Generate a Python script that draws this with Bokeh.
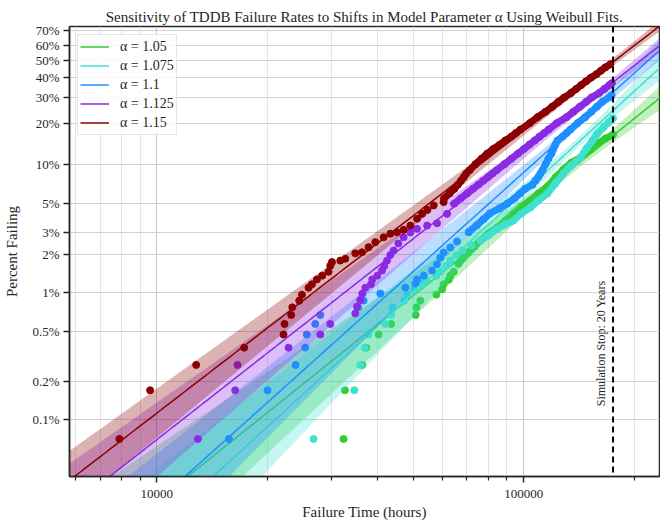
import numpy as np
from bokeh.plotting import figure
from bokeh.models import (Range1d, FixedTicker, CustomJSTickFormatter, NumeralTickFormatter,
                          Span, Legend, LegendItem)
from bokeh.core.properties import value
from bokeh.embed import file_html
from bokeh.resources import INLINE

# ---------------- data ----------------
alpha_labels = ["1.05", "1.075", "1.1", "1.125", "1.15"]
colors = ["#32cd32", "#40e0d0", "#1e90ff", "#8a2be2", "#8b0000"]

# Weibull fit parameters (scale eta in hours, shape beta)
eta = [367800, 282700, 250800, 243900, 208000]
beta = [2.33, 2.66, 2.61, 2.278, 2.238]
# confidence band parameters (half-width in Weibull units: min, growth per ln-hour, centre hours)
band_min = [0.09, 0.09, 0.08, 0.07, 0.06]
band_growth = [0.38, 0.41, 0.33, 0.25, 0.165]
band_center = [140000, 140000, 140000, 147000, 147000]

green_hours = [32280, 32570, 36307, 37230, 40230, 43490, 50760, 50980, 52270, 57800, 59900,
               60500, 62430, 63100, 64420]
green_pct = [0.07, 0.17, 0.27, 0.37, 0.47, 0.57, 0.67, 0.77, 0.87, 0.97, 1.07, 1.17, 1.27, 1.37, 1.47]
green_dense_hours = [66360, 68480, 70660, 73370, 76190, 80120, 84780, 89150, 93750, 98570, 104300,
                     109670, 116040, 122020, 128320, 134930, 142770, 150140, 158860, 167030, 175080]
green_dense_pct = [1.7, 1.9, 2.08, 2.32, 2.58, 2.93, 3.27, 3.7, 4.2, 4.75, 5.29, 5.99, 6.77, 7.93,
                   9.13, 10.3, 11.23, 12.64, 14.26, 15.5, 16.5]

cyan_hours = [26740, 34527, 35854, 36836, 37700, 41950, 43573, 43848, 47275, 48175, 50353, 52950,
              54300, 57800, 59270, 61540, 63100, 65530, 68050, 72010]
cyan_pct = [0.07, 0.17, 0.27, 0.37, 0.47, 0.57, 0.67, 0.77, 0.87, 0.97, 1.07, 1.17, 1.27, 1.37,
            1.47, 1.64, 1.8, 1.99, 2.16, 2.36]
cyan_dense_hours = [76190, 80120, 84250, 89150, 93750, 98570, 104300, 109670, 116040, 122020, 128320,
                    134930, 142770, 148260, 153950, 158860, 164950, 170200, 175080]
cyan_dense_pct = [2.58, 2.83, 3.15, 3.45, 3.7, 4.2, 4.67, 5.29, 5.99, 7.14, 8.51, 9.78, 11.23, 13.09,
                  14.98, 16.85, 18.63, 20.2, 21.6]

blue_hours = [15720, 20033, 23879, 25384, 25625, 27028, 27895, 35404, 36613, 40655, 47574, 50670,
              51210, 53380, 56260, 58050, 59270, 60500, 63100, 65820]
blue_pct = [0.07, 0.17, 0.27, 0.37, 0.47, 0.57, 0.67, 0.77, 0.87, 0.99, 1.1, 1.19, 1.28, 1.37, 1.5,
            1.68, 1.9, 2.08, 2.28, 2.54]
blue_dense_hours = [70840, 74500, 77810, 80900, 85940, 90100, 94440, 97730, 100880, 105610, 107620,
                    109670, 111060, 112460, 114600, 116780, 118990, 120490, 122020, 123560, 127590,
                    130870, 134080, 140240, 147070, 152780, 158300, 163680, 171060, 173600]
blue_dense_pct = [3, 3.4, 3.8, 4.2, 4.6, 5, 5.5, 6, 6.5, 7, 7.5, 8, 8.5, 9, 10, 11, 12, 13, 14, 15,
                  16, 17, 18, 20, 22, 24, 26, 28, 30, 31]

purple_hours = [12937, 16355, 16593, 22853, 27895, 29700, 34745, 35118, 35854, 36307, 36997, 38345,
                38660, 39898, 41094, 41692, 42406, 43300, 44210, 45530, 47070, 49100, 51210, 54530,
                58050, 61810]
purple_pct = [0.07, 0.17, 0.27, 0.37, 0.47, 0.57, 0.69, 0.78, 0.88, 0.99, 1.1, 1.17, 1.28, 1.37, 1.5,
              1.63, 1.8, 1.99, 2.16, 2.45, 2.74, 2.99, 3.19, 3.38, 3.52, 4.17]
purple_dense_hours = [64600, 67430, 70140, 72730, 75220, 77630, 79960, 82210, 84390, 88600, 92620,
                      96450, 100140, 103710, 107170, 110520, 113800, 117000, 123180, 130750, 136580,
                      142260, 147800, 153250, 160590, 165940, 171220, 173860]
purple_dense_pct = [5, 5.5, 6, 6.5, 7, 7.5, 8, 8.5, 9, 10, 11, 12, 13, 14, 15, 16, 17, 18, 20, 22, 24,
                    26, 28, 30, 32, 34, 36, 37]

red_hours = [7906, 9588, 12800, 17302, 22147, 22286, 23244, 23400, 24442, 24860, 25913, 26473, 27319,
             28243, 29384, 29700, 30020, 31623, 32633, 34745, 36240, 37775, 39400, 41510, 43300, 45160,
             47070, 49100, 51210, 52840, 54630, 56840, 60500]
red_pct = [0.07, 0.17, 0.27, 0.37, 0.47, 0.57, 0.67, 0.77, 0.87, 0.97, 1.1, 1.17, 1.28, 1.37, 1.47,
           1.64, 1.75, 1.8, 1.86, 2.05, 2.09, 2.29, 2.51, 2.74, 2.92, 3.0, 3.13, 3.38, 3.82, 4.17,
           4.47, 4.84, 5.14]
red_dense_hours = [60690, 62780, 64730, 66150, 67460, 68650, 69740, 71170, 73860, 76780, 79530, 82620,
                   86160, 89080, 92500, 95290, 98020, 103940, 109050, 114720, 119580, 124330, 128990,
                   134420, 138960, 143470, 147950, 152410, 157840, 162290, 166760, 172350]
red_dense_pct = [5.5, 6, 6.5, 7, 7.5, 8, 8.5, 9, 10, 11, 12, 13, 14, 15, 16, 17, 18, 20, 22, 24, 26, 28,
                 30, 32, 34, 36, 38, 40, 42, 44, 46, 48]

sparse_hours = [green_hours, cyan_hours, blue_hours, purple_hours, red_hours]
sparse_pct = [green_pct, cyan_pct, blue_pct, purple_pct, red_pct]
dense_hours = [green_dense_hours, cyan_dense_hours, blue_dense_hours, purple_dense_hours, red_dense_hours]
dense_pct = [green_dense_pct, cyan_dense_pct, blue_dense_pct, purple_dense_pct, red_dense_pct]

pct_ticks = [0.1, 0.2, 0.5, 1, 2, 3, 5, 10, 20, 30, 40, 50, 60, 70]
x_major = [10000, 100000]
x_minor = [6000, 7000, 8000, 9000, 20000, 30000, 40000, 50000, 60000, 70000, 80000, 90000, 200000]
x_limits = (5780, 234500)
y_limits_pct = (0.0353, 72.75)
sim_stop_hours = 175200
sim_label_pct = 0.4


def wb(pct):
    f = np.asarray(pct, dtype=float) / 100.0
    return np.log(-np.log(1.0 - f))


FONT = "Liberation Serif"
TXT = "#262626"

p = figure(width=660, height=525, x_axis_type="log", output_backend="svg", toolbar_location=None,
           x_range=Range1d(*x_limits), y_range=Range1d(*wb(list(y_limits_pct))),
           min_border_left=69, min_border_right=1, min_border_top=26, min_border_bottom=49)
p.background_fill_color = "white"
p.border_fill_color = "white"
p.outline_line_color = TXT
p.outline_line_width = 1.5

p.title.text = "Sensitivity of TDDB Failure Rates to Shifts in Model Parameter \u03b1 Using Weibull Fits."
p.title.text_font = FONT
p.title.text_font_size = "15px"
p.title.text_font_style = "normal"
p.title.text_color = TXT
p.title.align = "center"
p.title.standoff = 4
p.title.offset = 0

# axes
xt = FixedTicker(ticks=x_major, minor_ticks=x_minor)
p.xaxis.ticker = xt
p.xaxis.formatter = NumeralTickFormatter(format="0")
yt = FixedTicker(ticks=list(wb(pct_ticks)))
p.yaxis.ticker = yt
p.yaxis.formatter = CustomJSTickFormatter(code="""
const f = 100*(1 - Math.exp(-Math.exp(tick)));
const r = f >= 1 ? Math.round(f) : Math.round(f*10)/10;
return r + '%';
""")
p.xaxis.axis_label = "Failure Time (hours)"
p.yaxis.axis_label = "Percent Failing"
for ax in (p.xaxis, p.yaxis):
    ax.axis_label_text_font = FONT
    ax.axis_label_text_font_size = "15px"
    ax.axis_label_text_font_style = "normal"
    ax.axis_label_text_color = TXT
    ax.major_label_text_font = FONT
    ax.major_label_text_font_size = "13px"
    ax.major_label_text_color = TXT
    ax.axis_line_color = TXT
    ax.axis_line_width = 1.5
    ax.major_tick_line_color = TXT
    ax.major_tick_line_width = 1.5
    ax.major_tick_in = 0
    ax.major_tick_out = 6
    ax.minor_tick_line_color = TXT
    ax.minor_tick_line_width = 1.2
    ax.minor_tick_in = 0
    ax.minor_tick_out = 4
p.xaxis.major_label_standoff = 7
p.xaxis.axis_label_standoff = 3
p.yaxis.axis_label_standoff = 9
p.yaxis.major_label_standoff = 4

p.xgrid.ticker = xt
p.ygrid.ticker = yt
p.xgrid.grid_line_color = "#c8c8c8"
p.xgrid.grid_line_width = 1
p.xgrid.minor_grid_line_color = "#e4e4e4"
p.xgrid.minor_grid_line_width = 1
p.ygrid.grid_line_color = "#d2d2d2"
p.ygrid.grid_line_width = 1

# series
tgrid = np.geomspace(x_limits[0], x_limits[1], 300)
u = np.log(tgrid)
legend_items = []
for i in range(5):
    yfit = beta[i] * (u - np.log(eta[i]))
    h = np.sqrt(band_min[i] ** 2 + (band_growth[i] * (u - np.log(band_center[i]))) ** 2)
    p.varea(x=tgrid, y1=yfit - h, y2=yfit + h, fill_color=colors[i], fill_alpha=0.3)
    p.line(dense_hours[i], wb(dense_pct[i]), line_color=colors[i], line_width=7,
           line_cap="round", line_join="round")
    p.scatter(sparse_hours[i], wb(sparse_pct[i]), size=7, fill_color=colors[i], line_color=colors[i])
    p.scatter(dense_hours[i], wb(dense_pct[i]), size=7, fill_color=colors[i], line_color=colors[i])
    r = p.line(tgrid, yfit, line_color=colors[i], line_width=1.5)
    legend_items.append(LegendItem(label="\u03b1 = " + alpha_labels[i], renderers=[r]))

p.add_layout(Span(location=sim_stop_hours, dimension="height", line_color="black",
                  line_width=2, line_dash="6 4"))
p.text(x=[sim_stop_hours], y=wb([sim_label_pct]), text=["Simulation Stop: 20 Years"],
       angle=np.pi / 2, text_align="center", text_baseline="bottom", x_offset=-5,
       text_font=value(FONT), text_font_size="12px", text_color=TXT)

legend = Legend(items=legend_items, location="top_left")
legend.label_text_font = FONT
legend.label_text_font_size = "14px"
legend.label_text_color = TXT
legend.glyph_width = 29
legend.glyph_height = 19
legend.label_height = 19
legend.label_standoff = 11
legend.spacing = 0
legend.padding = 2
legend.margin = 8
legend.border_line_color = "#cccccc"
legend.border_line_width = 1
legend.background_fill_alpha = 0.85
p.add_layout(legend)

open("out.html", "w").write(file_html(p, INLINE))
